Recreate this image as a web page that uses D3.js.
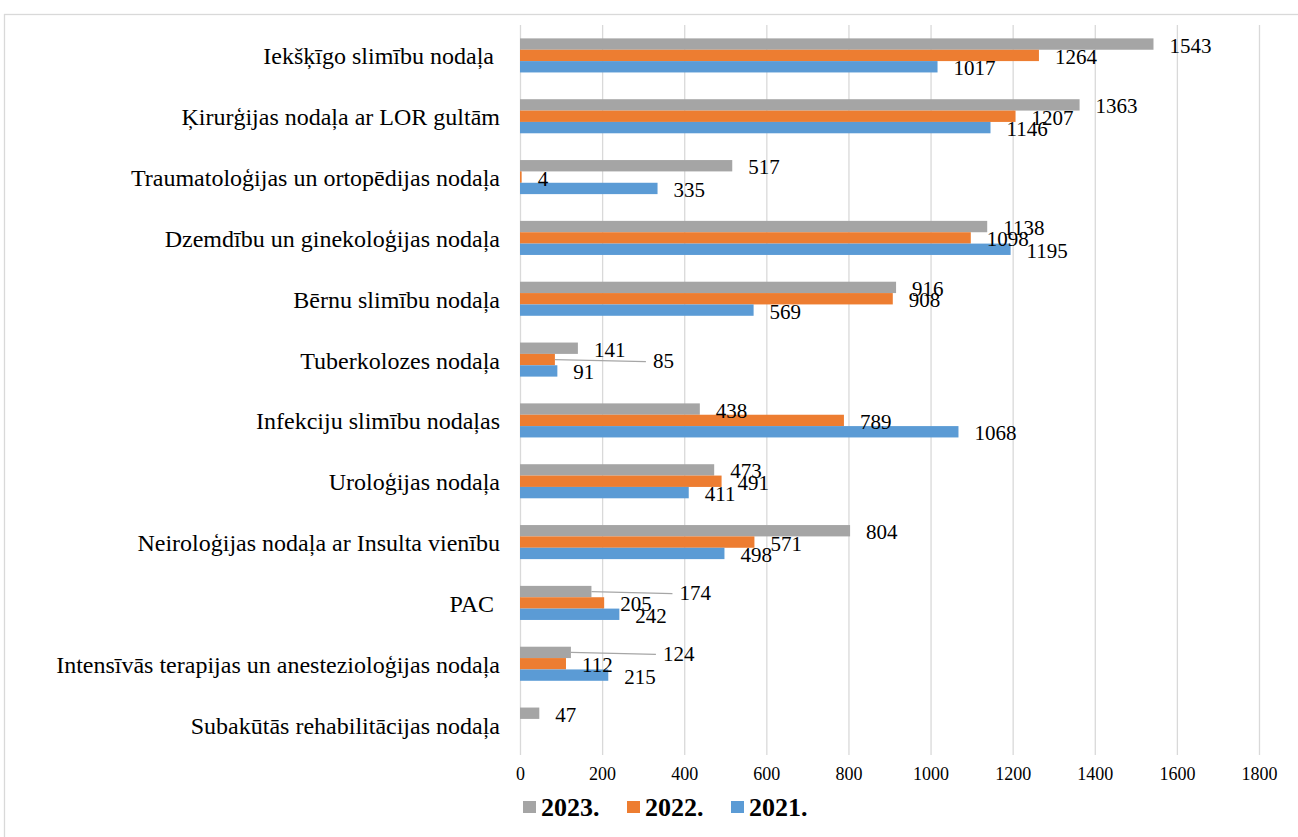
<!DOCTYPE html>
<html>
<head>
<meta charset="utf-8">
<script src="https://cdn.jsdelivr.net/npm/d3@7/dist/d3.min.js"></script>
<style>
  html, body { margin: 0; padding: 0; background: #fff; }
  svg { display: block; }
</style>
</head>
<body>
<svg id="chart" width="1298" height="837"></svg>
<script>
// ---- data ----
const categories = [
  "Iekšķīgo slimību nodaļa ",
  "Ķirurģijas nodaļa ar LOR gultām",
  "Traumatoloģijas un ortopēdijas nodaļa",
  "Dzemdību un ginekoloģijas nodaļa",
  "Bērnu slimību nodaļa",
  "Tuberkolozes nodaļa",
  "Infekciju slimību nodaļas",
  "Uroloģijas nodaļa",
  "Neiroloģijas nodaļa ar Insulta vienību",
  "PAC ",
  "Intensīvās terapijas un anestezioloģijas nodaļa",
  "Subakūtās rehabilitācijas nodaļa"
];
const seriesNames = ["2023.", "2022.", "2021."];
const values2023 = [1543, 1363, 517, 1138, 916, 141, 438, 473, 804, 174, 124, 47];
const values2022 = [1264, 1207, 4, 1098, 908, 85, 789, 491, 571, 205, 112, null];
const values2021 = [1017, 1146, 335, 1195, 569, 91, 1068, 411, 498, 242, 215, null];
const xTicks = [0, 200, 400, 600, 800, 1000, 1200, 1400, 1600, 1800];

const seriesValues = [values2023, values2022, values2021];
const colors = ["#a5a5a5", "#ed7d31", "#5b9bd5"];
const FONT = "Liberation Serif";

// label placements moved away from the bar end (with leader line), extra px shift
const leaderShift = { "5|1": 82, "9|0": 72, "10|0": 76 };

// ---- layout ----
const svg = d3.select("#chart");
const plot = { left: 520, right: 1259, top: 25, bottom: 755 };

svg.append("rect")
  .attr("x", 4.5).attr("y", 14.5).attr("width", 1310).attr("height", 840)
  .attr("fill", "#fff").attr("stroke", "#d9d9d9").attr("stroke-width", 1.3);

const x = d3.scaleLinear().domain([0, 1800]).range([plot.left, plot.right]);
const y = d3.scaleBand().domain(d3.range(categories.length)).range([plot.top, plot.bottom]).padding(0);
const groupH = y.bandwidth() * 0.56;
const ys = d3.scaleBand().domain(d3.range(seriesNames.length)).range([-groupH / 2, groupH / 2]).padding(0);

// gridlines
const grid = svg.append("g")
  .attr("transform", `translate(0,${plot.bottom})`)
  .call(d3.axisBottom(x).tickValues(xTicks).tickSize(-(plot.bottom - plot.top)).tickFormat(""));
grid.select(".domain").remove();
grid.selectAll("line").attr("stroke", "#d9d9d9").attr("stroke-width", 1.3);

// tick labels
const xAxis = svg.append("g")
  .attr("transform", `translate(0,${plot.bottom})`)
  .call(d3.axisBottom(x).tickValues(xTicks).tickSize(0).tickPadding(12).tickFormat(d3.format("d")));
xAxis.attr("font-family", FONT).attr("font-size", 18);
xAxis.select(".domain").remove();
xAxis.selectAll("text").attr("font-family", FONT).attr("font-size", 18).attr("fill", "#000");

// category labels
svg.append("g").selectAll("text")
  .data(categories)
  .join("text")
  .attr("x", 500)
  .attr("y", (d, i) => y(i) + y.bandwidth() / 2 + 9)
  .attr("text-anchor", "end")
  .attr("font-family", FONT)
  .attr("font-size", 24)
  .attr("xml:space", "preserve")
  .style("white-space", "pre")
  .attr("fill", "#000")
  .text(d => d);

// bars
const flat = [];
seriesValues.forEach((vals, s) => vals.forEach((v, i) => { if (v != null) flat.push({ s, i, v }); }));

svg.append("g").selectAll("rect")
  .data(flat)
  .join("rect")
  .attr("x", x(0))
  .attr("y", d => y(d.i) + y.bandwidth() / 2 + ys(d.s))
  .attr("width", d => Math.max(0.8, x(d.v) - x(0)))
  .attr("height", ys.bandwidth())
  .attr("fill", d => colors[d.s]);

// data labels
const lbl = svg.append("g");
flat.forEach(d => {
  const cy = y(d.i) + y.bandwidth() / 2 + ys(d.s) + ys.bandwidth() / 2;
  const shift = leaderShift[d.i + "|" + d.s] || 0;
  const tx = x(d.v) + 16 + shift;
  if (shift) {
    lbl.append("line")
      .attr("x1", x(d.v)).attr("y1", cy)
      .attr("x2", tx - 7).attr("y2", cy + 2)
      .attr("stroke", "#a6a6a6").attr("stroke-width", 1.2);
  }
  lbl.append("text")
    .attr("x", tx).attr("y", cy + 8.5)
    .attr("font-family", FONT)
    .attr("font-size", 21)
    .attr("fill", "#000")
    .text(d.v);
});

// legend
const legend = svg.append("g");
const legX = [523, 627, 731];
seriesNames.forEach((n, s) => {
  legend.append("rect").attr("x", legX[s]).attr("y", 801).attr("width", 13).attr("height", 12).attr("fill", colors[s]);
  legend.append("text").attr("x", legX[s] + 18).attr("y", 816)
    .attr("font-family", FONT)
    .attr("font-size", 26).attr("font-weight", "bold").attr("fill", "#000").text(n);
});
</script>
</body>
</html>
